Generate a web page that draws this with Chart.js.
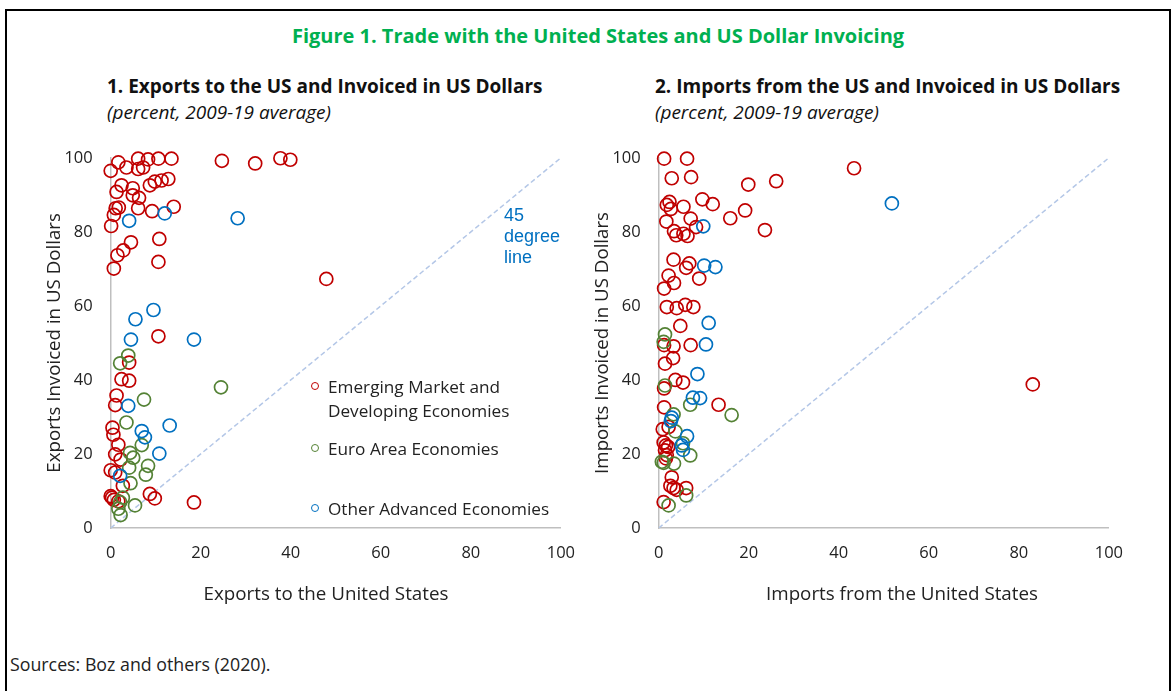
<!DOCTYPE html>
<html>
<head>
<meta charset="utf-8">
<script src="https://cdn.jsdelivr.net/npm/chart.js@4.4.1/dist/chart.umd.min.js"></script>
<style>
  body { margin: 0; width: 1174px; height: 691px; background: #fff; position: relative; overflow: hidden;
         font-family: 'Open Sans', 'Noto Sans', sans-serif; color: #111; }
  .frame { position: absolute; left: 5px; top: 9px; width: 1162px; height: 720px; border: 2px solid #000; border-bottom: none; }
  .abs { position: absolute; white-space: nowrap; }
  .fig-title { left: 0; width: 1196px; top: 24px; line-height: 24px; text-align: center; color: #00B050; font-weight: bold; font-size: 20px; }
  .sub { font-weight: bold; font-size: 19px; line-height: 24px; }
  .note { font-style: italic; font-size: 19px; line-height: 24px; }
  .box { position: absolute; width: 590px; height: 480px; }
  .xlab { width: 400px; text-align: center; font-size: 18.8px; line-height: 24px; color: #222; }
  .leg { font-size: 17.2px; line-height: 24px; color: #222; }
  .dot { position: absolute; width: 6px; height: 6px; border-radius: 50%; border: 1.7px solid; }
  .deg { font-family: 'Liberation Sans', Arial, sans-serif; font-size: 18px; line-height: 21px; color: #0070C0; }
  .src { font-size: 17.8px; line-height: 24px; color: #222; }
</style>
</head>
<body>
<div class="frame"></div>
<div class="abs fig-title">Figure 1. Trade with the United States and US Dollar Invoicing</div>

<div class="abs sub" style="left:107px;top:74px">1. Exports to the US and Invoiced in US Dollars</div>
<div class="abs note" style="left:107px;top:100px">(percent, 2009-19 average)</div>
<div class="abs sub" style="left:655px;top:74px">2. Imports from the US and Invoiced in US Dollars</div>
<div class="abs note" style="left:655px;top:100px">(percent, 2009-19 average)</div>

<div class="box" style="left:0;top:130px"><canvas id="exportsChart"></canvas></div>
<div class="box" style="left:548px;top:130px"><canvas id="importsChart"></canvas></div>

<div class="abs xlab" style="left:126px;top:581px">Exports to the United States</div>
<div class="abs xlab" style="left:702px;top:581px">Imports from the United States</div>

<div class="abs deg" style="left:504px;top:205px">45<br>degree<br>line</div>

<div class="dot" style="left:311px;top:382px;border-color:#C00000"></div>
<div class="abs leg" style="left:328px;top:375px">Emerging Market and<br>Developing Economies</div>
<div class="dot" style="left:311px;top:444px;border-color:#548235"></div>
<div class="abs leg" style="left:328px;top:437px">Euro Area Economies</div>
<div class="dot" style="left:311px;top:504px;border-color:#0070C0"></div>
<div class="abs leg" style="left:328px;top:497px">Other Advanced Economies</div>

<div class="abs src" style="left:10px;top:652px">Sources: Boz and others (2020).</div>

<script>
// [share with US, share invoiced in USD], percent
const exportsEMDE = [
  [0,96.5],[1.7,98.8],[3.5,97.4],[6.1,99.8],[6.1,97.0],[7.2,97.4],[8.3,99.6],[10.6,99.8],[13.5,99.8],
  [24.7,99.2],[32.1,98.5],[37.7,99.9],[39.9,99.5],
  [2.4,92.6],[1.3,90.8],[4.9,91.8],[4.9,89.9],[6.3,89.2],[8.7,92.6],[9.8,93.6],[11.3,93.9],[12.8,94.3],
  [1.1,86.4],[1.8,86.6],[0.7,84.6],[6.1,86.4],[9.2,85.6],[14.0,86.8],[0.1,81.6],
  [4.5,77.2],[2.8,75.0],[1.5,73.7],[10.8,78.1],[10.6,71.9],[0.7,70.1],[47.9,67.3],[10.6,51.8],
  [4.1,44.7],[2.4,40.2],[4.1,39.8],[1.3,35.8],[1.0,33.2],[0.4,27.1],[0.6,25.2],[1.7,22.5],[1.0,19.9],
  [2.2,18.5],[0,15.6],[1.0,15.0],[2.7,11.4],[0,8.6],[0.7,7.6],[1.7,7.2],[0.3,8.2],[8.7,9.2],[9.8,8.0],[18.5,6.9]
];
const exportsEuro = [
  [3.9,46.6],[2.1,44.5],[24.5,38.0],[7.4,34.7],[3.5,28.5],[6.9,22.4],[4.3,20.3],[5.0,19.0],[8.3,16.8],
  [4.1,16.3],[7.8,14.4],[4.4,12.1],[2.7,8.2],[2.1,7.0],[1.7,5.2],[2.2,3.5],[5.4,6.1]
];
const exportsOther = [
  [4.1,83.0],[12.0,85.0],[28.2,83.7],[9.5,58.9],[5.5,56.4],[4.5,50.9],[18.5,50.9],[3.9,33.0],
  [13.1,27.7],[6.9,26.2],[7.6,24.5],[10.8,20.1],[2.1,14.1]
];

const importsEMDE = [
  [1.2,99.8],[6.3,99.8],[2.9,94.5],[7.2,94.8],[19.9,92.8],[26.1,93.7],[43.4,97.2],
  [2.4,88.1],[1.8,87.3],[2.7,86.2],[5.5,86.8],[9.7,88.8],[12.0,87.5],[19.2,85.8],[15.9,83.7],[23.6,80.5],
  [1.7,82.8],[7.1,83.6],[8.3,81.3],[3.4,80.2],[3.9,79.1],[5.5,79.5],[6.4,78.9],
  [3.3,72.5],[6.8,71.5],[6.1,70.3],[2.2,68.2],[3.4,66.2],[1.2,64.7],[9.0,67.4],
  [1.8,59.7],[4.0,59.4],[5.9,60.3],[7.7,59.7],[4.8,54.6],
  [1.2,49.4],[3.3,49.1],[7.1,49.4],[1.4,44.4],[3.2,45.9],[3.7,40.0],[5.4,39.3],[1.2,37.7],[13.3,33.3],[1.2,32.6],[83.1,38.8],
  [0.9,26.7],[2.2,27.3],[1.1,23.1],[1.6,22.3],[2.1,21.9],[1.4,21.0],[1.8,19.7],[1.6,18.8],
  [2.9,13.7],[2.6,11.4],[3.3,10.8],[4.0,10.3],[6.1,10.8],[1.1,7.0]
];
const importsEuro = [
  [1.4,52.3],[1.1,50.3],[1.4,38.5],[7.0,33.3],[16.2,30.5],[3.3,30.7],[3.7,26.1],[5.4,22.9],[7.0,19.6],
  [0.7,17.9],[1.1,17.6],[3.4,17.4],[6.1,8.8],[2.2,6.1]
];
const importsOther = [
  [9.9,81.5],[51.8,87.7],[10.1,70.9],[12.6,70.5],[11.1,55.4],[10.5,49.6],[8.6,41.6],[7.6,35.2],
  [9.2,35.1],[2.9,29.8],[2.7,28.9],[6.3,24.8],[5.1,22.3],[5.4,21.1]
];

const diagonal = [0, 100];
const tickValues = [0, 20, 40, 60, 80, 100];

const red = '#C00000', green = '#548235', blue = '#0070C0';
const tickFont = { family: 'Open Sans', size: 16.5 };

function toPoints(pairs) {
  return pairs.map(p => ({ x: p[0], y: p[1] }));
}

function group(pairs, color) {
  return {
    type: 'scatter',
    data: toPoints(pairs),
    borderColor: color,
    backgroundColor: 'rgba(0,0,0,0)',
    pointRadius: 6.5,
    pointBorderWidth: 1.7,
    clip: false
  };
}

function makeChart(id, emde, euro, other, yTitle) {
  const ctx = document.getElementById(id).getContext('2d');
  return new Chart(ctx, {
    type: 'scatter',
    data: {
      datasets: [
        group(other, blue),
        group(euro, green),
        group(emde, red),
        {
          type: 'line',
          data: diagonal.map(v => ({ x: v, y: v })),
          borderColor: '#B4C7E7',
          borderWidth: 1.5,
          borderDash: [5, 3],
          pointRadius: 0,
          fill: false
        }
      ]
    },
    options: {
      responsive: true,
      maintainAspectRatio: false,
      animation: false,
      layout: { padding: { top: 22.3, right: 28.5, bottom: 0, left: 0 } },
      plugins: { legend: { display: false }, tooltip: { enabled: false } },
      scales: {
        x: {
          type: 'linear', min: 0, max: 100,
          afterBuildTicks: s => { s.ticks = tickValues.map(v => ({ value: v })); },
          ticks: { padding: 15, color: '#222', font: tickFont, maxRotation: 0 },
          grid: { display: false, drawTicks: false },
          border: { display: true, color: '#BFBFBF', width: 1.5 },
          afterFit: s => { s.height = 82; }
        },
        y: {
          type: 'linear', min: 0, max: 100,
          afterBuildTicks: s => { s.ticks = tickValues.map(v => ({ value: v })); },
          ticks: { padding: 18, color: '#222', font: tickFont },
          grid: { display: false, drawTicks: false },
          border: { display: true, color: '#BFBFBF', width: 1.5 },
          title: { display: true, text: yTitle, color: '#222', font: { family: 'Open Sans', size: 18.7 }, padding: { top: 43.8, bottom: 0 } },
          afterFit: s => { s.width = 110.7; }
        }
      }
    }
  });
}

makeChart('exportsChart', exportsEMDE, exportsEuro, exportsOther, 'Exports Invoiced in US Dollars');
makeChart('importsChart', importsEMDE, importsEuro, importsOther, 'Imports Invoiced in US Dollars');
</script>
</body>
</html>
